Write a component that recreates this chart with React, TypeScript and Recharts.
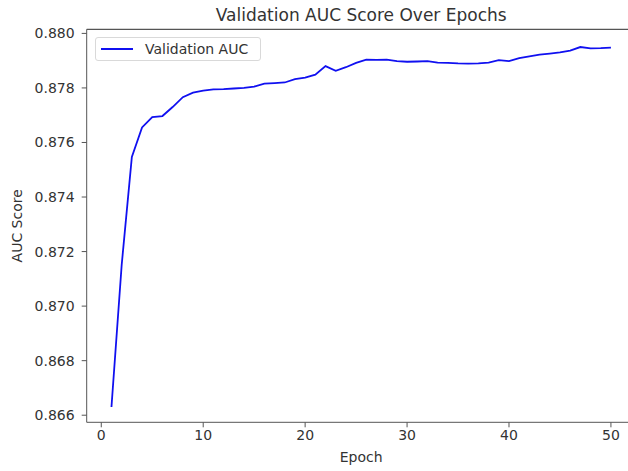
import { LineChart, Line, XAxis, YAxis, Legend, ReferenceLine } from "recharts";

const epochs = [
  1, 2, 3, 4, 5, 6, 7, 8, 9, 10, 11, 12, 13, 14, 15, 16, 17, 18, 19, 20, 21, 22, 23, 24, 25,
  26, 27, 28, 29, 30, 31, 32, 33, 34, 35, 36, 37, 38, 39, 40, 41, 42, 43, 44, 45, 46, 47, 48, 49, 50,
];

const valAuc = [
  0.8663, 0.8715, 0.87547, 0.87655, 0.87693, 0.87697, 0.8773, 0.87766, 0.87783, 0.8779,
  0.87795, 0.87796, 0.87798, 0.878, 0.87805, 0.87816, 0.87818, 0.8782, 0.87832, 0.87838,
  0.87849, 0.8788, 0.87863, 0.87876, 0.87892, 0.87904, 0.87903, 0.87904, 0.87898, 0.87896,
  0.87897, 0.87898, 0.87893, 0.87892, 0.8789, 0.87889, 0.8789, 0.87893, 0.87902, 0.87898,
  0.87909, 0.87916, 0.87922, 0.87926, 0.8793, 0.87937, 0.8795, 0.87945, 0.87946, 0.87948,
];

const xTicks = [0, 10, 20, 30, 40, 50];
const yTicks = [0.866, 0.868, 0.87, 0.872, 0.874, 0.876, 0.878, 0.88];

const X_DOMAIN: [number, number] = [-1.43, 52.43];
const Y_DOMAIN: [number, number] = [0.86574, 0.88015];

const data = epochs.map((e, i) => ({ epoch: e, auc: valAuc[i] }));

const FONT = "'DejaVu Sans', sans-serif";
const AXIS = "#555";
const TEXT = "#333";
const BLUE = "#1010f0";

function LegendBox() {
  return (
    <div
      style={{
        position: "relative",
        width: 166,
        height: 24,
        border: "1px solid #d9d9d9",
        borderRadius: 3,
        background: "rgba(255,255,255,0.85)",
        boxSizing: "border-box",
        fontFamily: FONT,
        fontSize: 14,
        color: TEXT,
      }}
    >
      <div style={{ position: "absolute", left: 5, top: 10, width: 32, height: 0, borderTop: `2px solid ${BLUE}` }} />
      <div style={{ position: "absolute", left: 49, top: 2, lineHeight: "18px", whiteSpace: "nowrap" }}>
        Validation AUC
      </div>
    </div>
  );
}

export default function App() {
  return (
    <div
      style={{
        position: "absolute",
        left: 0,
        top: 0,
        width: 628,
        height: 471,
        overflow: "hidden",
        background: "#fff",
        fontFamily: FONT,
      }}
    >
      <LineChart
        width={640}
        height={471}
        data={data}
        margin={{ top: 29.3, right: 4.3, bottom: 0, left: 0 }}
        style={{ fontFamily: FONT }}
      >
        <XAxis
          dataKey="epoch"
          type="number"
          domain={X_DOMAIN}
          ticks={xTicks}
          allowDataOverflow
          height={48.7}
          stroke={AXIS}
          tickSize={5}
          tickMargin={3}
          tick={{ fill: TEXT, fontSize: 14 }}
          label={{ value: "Epoch", position: "insideBottom", offset: 9, fill: TEXT, fontSize: 14 }}
        />
        <YAxis
          type="number"
          domain={Y_DOMAIN}
          ticks={yTicks}
          allowDataOverflow
          width={86.7}
          stroke={AXIS}
          tickSize={5}
          tickMargin={7}
          tick={{ fill: TEXT, fontSize: 14 }}
          tickFormatter={(v: number) => v.toFixed(3)}
          label={{
            content: () => (
              <text
                x={17}
                y={225.8}
                transform="rotate(-90 17 225.8)"
                textAnchor="middle"
                dominantBaseline="central"
                fill={TEXT}
                fontSize={14}
              >
                AUC Score
              </text>
            ),
          }}
        />
        {/* top spine + title */}
        <ReferenceLine
          y={Y_DOMAIN[1]}
          ifOverflow="visible"
          stroke={AXIS}
          strokeWidth={1.2}
          label={{
            value: "Validation AUC Score Over Epochs",
            position: "top",
            offset: 8,
            fill: TEXT,
            fontSize: 17,
          }}
        />
        <Legend
          layout="horizontal"
          verticalAlign="middle"
          align="center"
          content={() => <LegendBox />}
          wrapperStyle={{ left: 95, top: 37, width: "auto", height: "auto" }}
        />
        <Line
          type="linear"
          dataKey="auc"
          name="Validation AUC"
          stroke={BLUE}
          strokeWidth={1.8}
          dot={false}
          isAnimationActive={false}
        />
      </LineChart>
      <div
        style={{
          position: "absolute",
          left: 86.7,
          top: 28.8,
          width: 560,
          height: 1.2,
          background: AXIS,
        }}
      />
    </div>
  );
}
